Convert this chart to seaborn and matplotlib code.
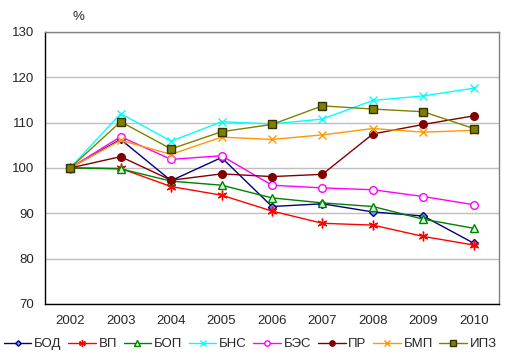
import pandas as pd
import matplotlib
matplotlib.use('Agg')
import matplotlib.pyplot as plt
import seaborn as sns

years = ['2002', '2003', '2004', '2005', '2006', '2007', '2008', '2009', '2010']

bod = [100, 106.3, 97.2, 102.3, 91.5, 92.1, 90.3, 89.4, 83.4]
vp = [100, 99.9, 95.9, 94.0, 90.5, 87.8, 87.4, 84.9, 83.0]
bop = [100, 99.8, 97.1, 96.2, 93.4, 92.3, 91.5, 88.7, 86.7]
bns = [100, 112.0, 105.9, 110.2, 109.7, 110.8, 114.9, 115.9, 117.6]
bes = [100, 106.9, 101.9, 102.7, 96.2, 95.6, 95.2, 93.7, 91.9]
pr = [100, 102.5, 97.3, 98.7, 98.1, 98.6, 107.5, 109.6, 111.5]
bmp = [100, 106.1, 103.0, 106.8, 106.3, 107.3, 108.7, 107.9, 108.3]
ipz = [100, 110.2, 104.2, 108.0, 109.6, 113.7, 113.0, 112.4, 108.7]

names = ['БОД', 'ВП', 'БОП', 'БНС', 'БЭС', 'ПР', 'БМП', 'ИПЗ']
series = [bod, vp, bop, bns, bes, pr, bmp, ipz]

# line colour, marker, marker face, marker edge, marker size
styles = [
    ('#000080', 'D', '#6699FF', '#000080', 4),
    ('#FF0000', (6, 2, 0), 'none', '#FF0000', 7),
    ('#008000', '^', '#CCFFCC', '#008000', 5.5),
    ('#00FFFF', 'x', 'none', '#00FFFF', 6),
    ('#FF00FF', 'o', 'white', '#FF00FF', 5.5),
    ('#800000', 'o', '#800000', '#800000', 5.5),
    ('#FF9900', 'x', 'none', '#FF9900', 6),
    ('#808000', 's', '#808000', '#333300', 6),
]

sns.set_style('white')
plt.rcParams['font.family'] = ['Liberation Sans', 'DejaVu Sans']

fig = plt.figure(figsize=(5.14, 3.6), dpi=100)
ax = fig.add_axes([0.0875, 0.1556, 0.8833, 0.7556])

pos = list(range(len(years)))
for name, vals, (c, m, fc, ec, ms) in zip(names, series, styles):
    df = pd.DataFrame({'pos': pos, 'val': vals})
    sns.lineplot(data=df, x='pos', y='val', ax=ax, color=c, marker=m,
                 markerfacecolor=fc, markeredgecolor=ec, markersize=ms,
                 markeredgewidth=1, linewidth=1, label=name, zorder=3)

ax.set_xlim(-0.5, 8.5)
ax.set_ylim(70, 130)
ax.set_xticks(pos)
ax.set_xticklabels(years)
ax.set_yticks(range(70, 131, 10))
ax.set_xlabel('')
ax.set_ylabel('')
ax.tick_params(length=0, labelsize=9.5, pad=8)
ax.grid(axis='y', color='#BFBFBF', linewidth=1)
ax.set_axisbelow(True)
for s in ['left', 'bottom']:
    ax.spines[s].set_color('black')
    ax.spines[s].set_linewidth(1)
for s in ['top', 'right']:
    ax.spines[s].set_color('#808080')
    ax.spines[s].set_linewidth(1)

fig.text(78 / 514, 1 - 17 / 360, '%', fontsize=9.5, ha='center', va='center')

handles, labels = ax.get_legend_handles_labels()
ax.get_legend().remove()
fig.legend(handles, labels, loc='center', bbox_to_anchor=(0.487, 1 - 344 / 360), ncol=8,
           frameon=False, fontsize=9.5, handlelength=2.1, handletextpad=0.2,
           columnspacing=0.5, markerscale=0.7, borderpad=0, borderaxespad=0)

fig.savefig('out.png', dpi=100)
